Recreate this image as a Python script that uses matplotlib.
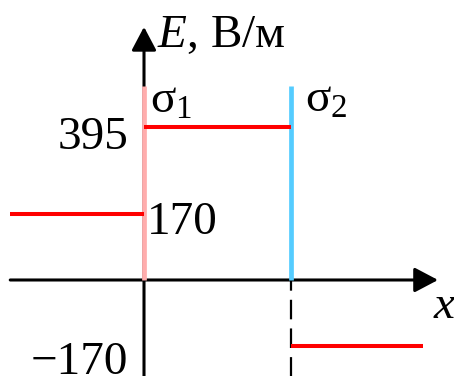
import matplotlib
matplotlib.use("Agg")
import matplotlib.pyplot as plt

# ======================================================
# DATA
# ======================================================

# field E (V/m) in the three regions: left of plane 1, between planes, right of plane 2
E_values = [170, 395, -170]
E_labels = ["170", "395", "\u2212170"]

# positions of the two charged planes along x
plane_x = [0, 1]
plane_labels = [r"$\mathregular{σ_1}$", r"$\mathregular{σ_2}$"]

# ======================================================
# STYLE
# ======================================================

plt.rcParams["font.family"] = ["Liberation Serif", "DejaVu Serif"]
plt.rcParams["mathtext.fontset"] = "custom"
plt.rcParams["mathtext.rm"] = "Liberation Serif"
plt.rcParams["mathtext.it"] = "Liberation Serif:italic"

FS = 34
RED = "#ff0000"
PLANE_COLORS = ["#ffadad", "#55ccff"]

x_left, x_right, x_tip = -0.91, 1.9, 2.0
plane_top = 500
y_tip = 654

fig = plt.figure(figsize=(4.54, 3.76), dpi=100)
ax = fig.add_axes([0, 0, 1, 1])
ax.set_xlim(-0.9796, 2.1088)
ax.set_ylim(-248.1, 723.5)
ax.axis("off")

# ======================================================
# AXES WITH ARROWS
# ======================================================

arrow = dict(arrowstyle="-|>,head_length=14.4,head_width=7.6",
             mutation_scale=1, color="black", lw=2.2,
             shrinkA=0, shrinkB=0)

ax.annotate("", xy=(x_tip, 0), xytext=(x_left, 0), arrowprops=arrow)
ax.annotate("", xy=(0, y_tip), xytext=(0, -260), arrowprops=arrow)

# dashed guide below plane 2 (pattern is scaled by the line width)
ax.plot([plane_x[1], plane_x[1]], [0, -260], color="black", lw=1.6,
        linestyle=(4, (8.8, 4.1)), zorder=2)

# ======================================================
# CHARGED PLANES
# ======================================================

for px, col in zip(plane_x, PLANE_COLORS):
    ax.plot([px, px], [0, plane_top], color=col, lw=3.4,
            solid_capstyle="butt", zorder=3)

ax.annotate(plane_labels[0], xy=(plane_x[0], plane_top), xytext=(4.3, -18.7),
            textcoords="offset points", ha="left", va="baseline", fontsize=FS)
ax.annotate(plane_labels[1], xy=(plane_x[1], plane_top), xytext=(10, -18),
            textcoords="offset points", ha="left", va="baseline", fontsize=FS)

# ======================================================
# FIELD E(x)
# ======================================================

seg_start = [x_left, plane_x[0], plane_x[1]]
seg_end = [plane_x[0], plane_x[1], x_right]

for xs, xe, val in zip(seg_start, seg_end, E_values):
    ax.plot([xs, xe], [val, val], color=RED, lw=2.9,
            solid_capstyle="butt", zorder=4)

ax.annotate(E_labels[0], xy=(0, E_values[0]), xytext=(2.2, -14.4),
            textcoords="offset points", ha="left", va="baseline", fontsize=FS)
ax.annotate(E_labels[1], xy=(0, E_values[1]), xytext=(-11.5, -15.8),
            textcoords="offset points", ha="right", va="baseline", fontsize=FS)
ax.annotate(E_labels[2], xy=(0, E_values[2]), xytext=(-11.5, -20),
            textcoords="offset points", ha="right", va="baseline", fontsize=FS)

# ======================================================
# AXIS LABELS
# ======================================================

ax.annotate("$E$, В/м", xy=(0, y_tip), xytext=(9.4, -14.4),
            textcoords="offset points", ha="left", va="baseline", fontsize=FS)
ax.annotate("$x$", xy=(x_tip, 0), xytext=(-3.6, -27.4),
            textcoords="offset points", ha="left", va="baseline", fontsize=FS)

fig.savefig("out.png", dpi=100)
